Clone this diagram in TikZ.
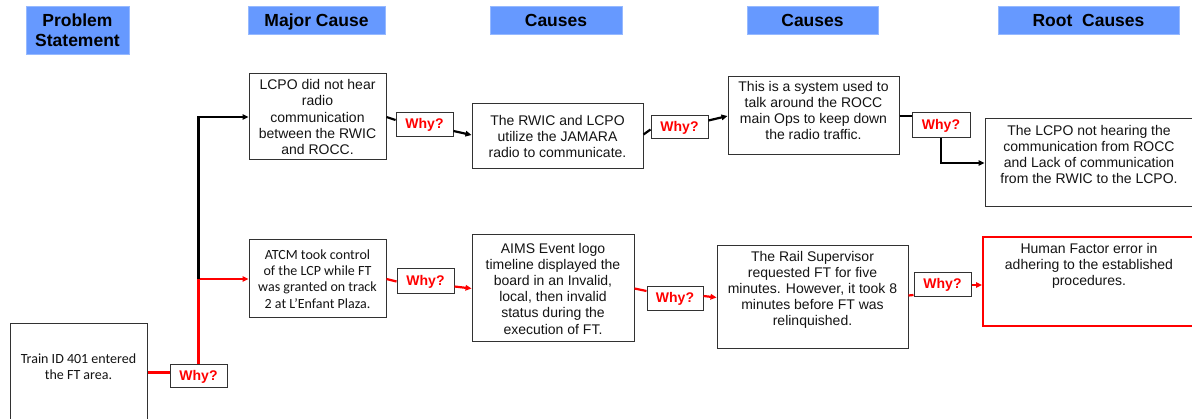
\documentclass[tikz,border=0pt]{standalone}
\usepackage{fontspec}
\setmainfont{Liberation Sans}
\newfontfamily\calfont{Carlito}
\usetikzlibrary{arrows.meta}
\definecolor{hdrblue}{RGB}{102,153,255}
\definecolor{hdredge}{RGB}{150,185,255}
\definecolor{boxgray}{RGB}{50,50,50}
\definecolor{txtgray}{RGB}{20,20,20}
\definecolor{whyred}{RGB}{255,0,0}
\newcommand\bxc[3]{\parbox[c][#2][c]{#1}{\centering #3\par}}
\newcommand\bxt[4]{\parbox[c][#2][t]{#1}{\vspace*{#3}\centering #4\par}}
\begin{document}
\begin{tikzpicture}[x=1pt,y=-1pt,
  hdr/.style={fill=hdrblue, draw=hdredge, line width=0.6pt, inner sep=0pt, align=center,
    font=\fontsize{17.5}{19.5}\selectfont\bfseries},
  hdrone/.style={hdr, text height=12.6pt, text depth=0pt},
  box/.style={draw=boxgray, line width=1pt, inner sep=0pt, fill=white, text=txtgray,
    font=\fontsize{14}{16.2}\selectfont},
  calbox/.style={box, font=\calfont\fontsize{14}{16.2}\selectfont},
  redbox/.style={box, draw=whyred, line width=2pt},
  why/.style={draw=boxgray, line width=1pt, fill=white, inner sep=0pt, text=whyred,
    font=\fontsize{14}{16}\selectfont\bfseries},
  blk/.style={line width=2.2pt, black},
  blkarr/.style={blk, -{Triangle[length=6pt,width=5.5pt]}},
  rd/.style={line width=2.2pt, whyred},
  rdarr/.style={rd, -{Triangle[length=6pt,width=5.5pt]}},
]
\useasboundingbox (0,0) rectangle (1192,419);

% headers
\node[hdr, minimum width=103pt, minimum height=48pt] (hps) at (77.5,30) {Problem\\Statement};
\node[hdrone, minimum width=137pt, minimum height=28pt] (hmc) at (316.5,20) {Major Cause};
\node[hdrone, minimum width=132pt, minimum height=28pt] (hc1) at (556,20) {Causes};
\node[hdrone, minimum width=131pt, minimum height=28pt] (hc2) at (812.5,20) {Causes};
\node[hdrone, minimum width=181pt, minimum height=28pt] (hrc) at (1088.5,20) {Root\ \ Causes};

% top row boxes
\node[box] (lcpo) at (317.5,117) {\bxc{137pt}{86pt}{LCPO did not hear\\radio\\communication\\between the RWIC\\and ROCC.}};
\node[box] (rwic) at (557.5,136.5) {\bxc{171pt}{65pt}{The RWIC and LCPO\\utilize the JAMARA\\radio to communicate.}};
\node[box] (sys) at (813.5,116) {\bxt{171pt}{78pt}{4pt}{This is a system used to\\talk around the ROCC\\main Ops to keep down\\the radio traffic.}};
\node[box] (root) at (1089,163) {\bxt{208pt}{88pt}{6pt}{The LCPO not hearing the\\communication from ROCC\\and Lack of communication\\from the RWIC to the LCPO.}};

% bottom row boxes
\node[calbox] (train) at (78.5,384) {\bxt{137pt}{120pt}{30pt}{Train ID 401 entered\\the FT area.}};
\node[calbox] (atcm) at (317.5,279) {\bxc{137pt}{78pt}{ATCM took control\\of the LCP while FT\\was granted on track\\2 at L’Enfant Plaza.}};
\node[box] (aims) at (553,288.5) {\bxc{162pt}{107pt}{AIMS Event logo\\timeline displayed the\\board in an Invalid,\\local, then invalid\\status during the\\execution of FT.}};
\node[box] (rail) at (812.5,297.5) {\bxt{191pt}{103pt}{5pt}{The Rail Supervisor\\requested FT for five\\minutes. However, it took 8\\minutes before FT was\\relinquished.}};
\node[redbox] (human) at (1089,281.5) {\bxt{212pt}{89pt}{6pt}{Human Factor error in\\adhering to the established\\procedures.}};

% why boxes
\node[why, minimum width=57pt, minimum height=23pt] (why0) at (198.5,376.5) {Why?};
\node[why, minimum width=57pt, minimum height=24pt] (why1) at (424.5,125) {Why?};
\node[why, minimum width=57pt, minimum height=23pt] (why2) at (679.5,127.5) {Why?};
\node[why, minimum width=58pt, minimum height=25pt] (why3) at (941,125.5) {Why?};
\node[why, minimum width=57pt, minimum height=25pt] (whyb1) at (425.5,281.5) {Why?};
\node[why, minimum width=56pt, minimum height=24pt] (whyb2) at (675,299) {Why?};
\node[why, minimum width=57pt, minimum height=24pt] (whyb3) at (942.5,285) {Why?};

% trunk from problem statement
\draw[rd, line width=2.8pt] ([yshift=4pt]why0.west -| train.east) -- ([yshift=4pt]why0.west);
\draw[rd, line width=3.2pt] (why0.north) -- (why0.north |- atcm.west);
\draw[rdarr] (why0.north |- atcm.west) -- (atcm.west);
\draw[blkarr] (why0.north |- atcm.west) -- (why0.north |- lcpo.west) -- (lcpo.west);

% top chain
\draw[blk] (lcpo.east) -- ([yshift=5pt]why1.west);
\draw[blkarr] ([yshift=-6pt]why1.east) -- ([yshift=1.5pt]rwic.west);
\draw[blk] ([yshift=2pt]rwic.east) -- ([yshift=-2pt]why2.west);
\draw[blkarr] ([yshift=7pt]why2.east) -- (sys.west);
\draw[blk] (sys.east) -- (sys.east -| why3.west);
\draw[blkarr] (why3.south) -- (why3.south |- root.west) -- (root.west);

% bottom chain
\draw[rd] (atcm.east) -- (whyb1.west);
\draw[rdarr] ([yshift=-5pt]whyb1.east) -- (aims.west);
\draw[rd] (aims.east) -- ([yshift=8pt]whyb2.west);
\draw[rdarr] ([yshift=3pt]whyb2.east) -- (rail.west);
\draw[rd] ([yshift=2pt]rail.east) -- ([yshift=-10pt]whyb3.west);
\draw[rdarr] (whyb3.east) -- (whyb3.east -| human.west);
\end{tikzpicture}
\end{document}
